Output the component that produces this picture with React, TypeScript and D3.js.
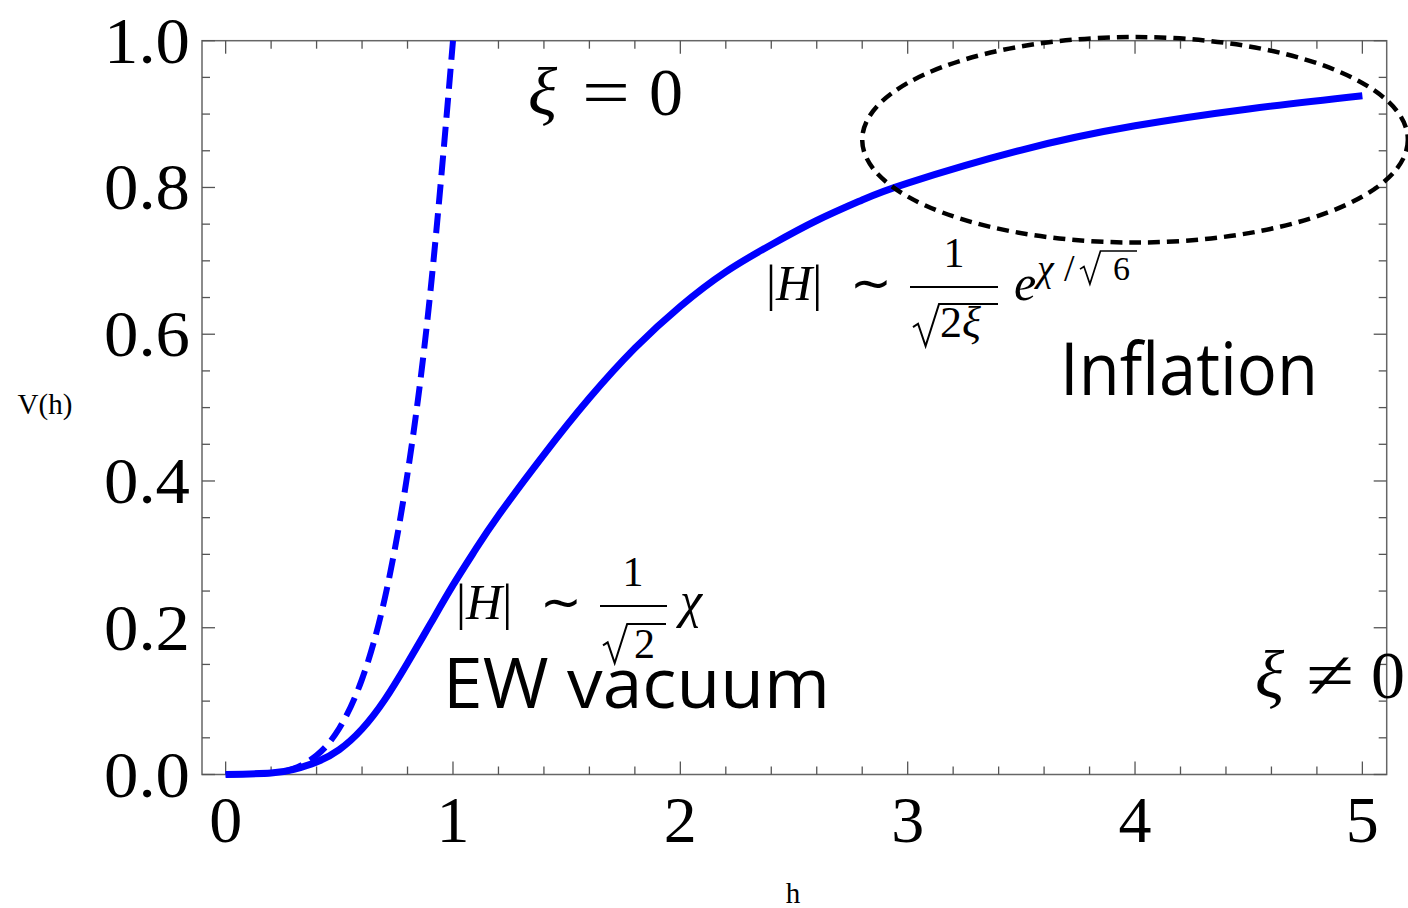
import { scaleLinear, line, curveNatural, range } from "d3";

// h values and potential V(h)
const solidH = [0, 0.2, 0.3, 0.4, 0.5, 0.6, 0.7, 0.8, 0.9, 1.0, 1.1, 1.2, 1.4, 1.6, 1.8, 2.0, 2.2, 2.4, 2.6, 2.8, 3.0, 3.5, 4.0, 4.5, 5.0];
const solidV = [0, 0.002, 0.007, 0.017, 0.034, 0.062, 0.102, 0.152, 0.205, 0.258, 0.307, 0.353, 0.436, 0.513, 0.581, 0.638, 0.685, 0.722, 0.755, 0.783, 0.806, 0.851, 0.884, 0.907, 0.925];
const dashH = [0, 0.2, 0.3, 0.4, 0.5, 0.6, 0.7, 0.8, 0.9, 1.0];
const dashV = [0, 0.002, 0.008, 0.026, 0.063, 0.13, 0.24, 0.41, 0.656, 1.0];
const xTicks = [0, 1, 2, 3, 4, 5];
const yTicks = [0, 0.2, 0.4, 0.6, 0.8, 1.0];
// inflation region marker: centre and radii in data units
const ellipse = { h: 4.0, v: 0.865, rh: 1.2, rv: 0.14 };

const W = 1408, H = 908;
const x = scaleLinear().domain([-0.104, 5.107]).range([202, 1386.7]);
const y = scaleLinear().domain([0, 1]).range([774.5, 40.7]);

const serif = "'Liberation Serif', 'Times New Roman', serif";
const sans = "'Open Sans', 'DejaVu Sans', sans-serif";

type P = [number, number];
const lineGen = line<P>().x((d) => x(d[0])).y((d) => y(d[1])).curve(curveNatural);

// square-root sign drawn as a path: tick, down stroke, up stroke, vinculum
function Radical({ x0, x1, top, bottom, w = 2 }: { x0: number; x1: number; top: number; bottom: number; w?: number }) {
  const h = bottom - top;
  const d = `M${x0},${top + h * 0.55} L${x0 + h * 0.12},${top + h * 0.47} L${x0 + h * 0.3},${bottom} L${x0 + h * 0.62},${top} L${x1},${top}`;
  return <path d={d} fill="none" stroke="#000" strokeWidth={w} strokeLinejoin="miter" />;
}

export default function App() {
  const solid: P[] = solidH.map((h, i) => [h, solidV[i]]);
  const dashed: P[] = dashH.map((h, i) => [h, dashV[i]]);
  const minorX = range(0, 5.0001, 0.2).map((v) => +v.toFixed(2));
  const minorY = range(0, 1.0001, 0.05).map((v) => +v.toFixed(2));
  const isMajorX = (v: number) => Math.abs(v - Math.round(v)) < 1e-6;
  const isMajorY = (v: number) => Math.abs(v * 5 - Math.round(v * 5)) < 1e-6;
  const [x0, x1] = x.range();
  const [y0, y1] = y.range();
  const tickCol = "#555";

  return (
    <svg width={W} height={H} style={{ position: "absolute", left: 0, top: 0, background: "#fff" }}>
      <rect x={x0} y={y1} width={x1 - x0} height={y0 - y1} fill="none" stroke="#666" strokeWidth={1.5} />
      {minorX.map((v) => {
        const len = isMajorX(v) ? 13 : 8;
        return (
          <g key={"xt" + v} stroke={tickCol} strokeWidth={1.3}>
            <line x1={x(v)} x2={x(v)} y1={y0} y2={y0 - len} />
            <line x1={x(v)} x2={x(v)} y1={y1} y2={y1 + len} />
          </g>
        );
      })}
      {minorY.map((v) => {
        const len = isMajorY(v) ? 13 : 8;
        return (
          <g key={"yt" + v} stroke={tickCol} strokeWidth={1.3}>
            <line x1={x0} x2={x0 + len} y1={y(v)} y2={y(v)} />
            <line x1={x1} x2={x1 - len} y1={y(v)} y2={y(v)} />
          </g>
        );
      })}
      {xTicks.map((v) => (
        <text key={"xl" + v} x={x(v)} y={842} textAnchor="middle" fontFamily={serif} fontSize={66}>
          {v}
        </text>
      ))}
      {yTicks.map((v) => (
        <text key={"yl" + v} x={190} y={y(v) + 22} textAnchor="end" fontFamily={serif} fontSize={66}
          textLength={86} lengthAdjust="spacingAndGlyphs">
          {v.toFixed(1)}
        </text>
      ))}
      <text x={45} y={414} textAnchor="middle" fontFamily={serif} fontSize={29}>V(h)</text>
      <text x={793} y={903} textAnchor="middle" fontFamily={serif} fontSize={29}>h</text>

      <path d={lineGen(dashed) || ""} fill="none" stroke="#0000ff" strokeWidth={6} strokeDasharray="20,9" />
      <path d={lineGen(solid) || ""} fill="none" stroke="#0000ff" strokeWidth={7} />

      <ellipse
        cx={x(ellipse.h)}
        cy={y(ellipse.v)}
        rx={x(ellipse.h + ellipse.rh) - x(ellipse.h)}
        ry={y(ellipse.v) - y(ellipse.v + ellipse.rv)}
        fill="none"
        stroke="#000"
        strokeWidth={4.5}
        strokeDasharray="12,7"
      />

      {/* xi labels */}
      <g fontFamily={serif} fontSize={68}>
        <text x={528} y={115} fontStyle="italic">ξ</text>
        <text x={582} y={115} textLength={48} lengthAdjust="spacingAndGlyphs">=</text>
        <text x={649} y={115}>0</text>
        <text x={1255} y={698} fontStyle="italic">ξ</text>
        <text x={1306} y={698} textLength={48} lengthAdjust="spacingAndGlyphs">≠</text>
        <text x={1371} y={698}>0</text>
      </g>

      {/* |H| ~ 1/sqrt2 chi */}
      <g fontFamily={serif} fontSize={50}>
        <text x={456} y={619}>
          |<tspan fontStyle="italic">H</tspan>|
        </text>
        <text x={540} y={619}>∼</text>
        <text x={633} y={586} textAnchor="middle" fontSize={42}>1</text>
        <line x1={600} x2={667} y1={606} y2={606} stroke="#000" strokeWidth={2} />
        <Radical x0={603} x1={666} top={624} bottom={663} />
        <text x={634} y={658} fontSize={42}>2</text>
        <text x={680} y={617} fontStyle="italic">χ</text>
      </g>

      {/* |H| ~ 1/(sqrt(2 xi)) e^{chi/sqrt6} */}
      <g fontFamily={serif} fontSize={50}>
        <text x={766} y={300}>
          |<tspan fontStyle="italic">H</tspan>|
        </text>
        <text x={850} y={300}>∼</text>
        <text x={954} y={267} textAnchor="middle" fontSize={42}>1</text>
        <line x1={910} x2={998} y1={287} y2={287} stroke="#000" strokeWidth={2} />
        <Radical x0={913} x1={998} top={304} bottom={346} />
        <text x={940} y={337} fontSize={44}>
          2<tspan fontStyle="italic">ξ</tspan>
        </text>
        <text x={1014} y={300} fontStyle="italic">e</text>
        <text x={1037} y={281} fontSize={38} fontStyle="italic">χ</text>
        <text x={1064} y={281} fontSize={38}>/</text>
        <Radical x0={1080} x1={1137} top={251} bottom={284} w={1.7} />
        <text x={1113} y={280} fontSize={34}>6</text>
      </g>

      <text x={1060} y={395} fontFamily={sans} fontSize={74} textLength={258} lengthAdjust="spacingAndGlyphs">
        Inflation
      </text>
      <text x={443} y={708} fontFamily={sans} fontSize={70} textLength={387} lengthAdjust="spacingAndGlyphs">
        EW vacuum
      </text>
    </svg>
  );
}
